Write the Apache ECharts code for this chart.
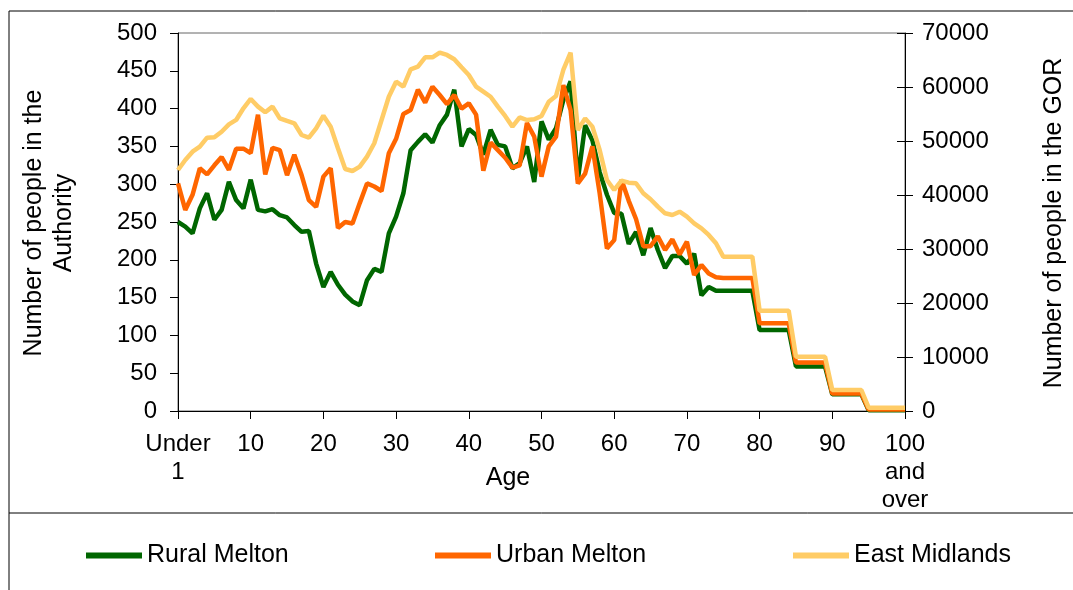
<!DOCTYPE html>
<html>
<head>
<meta charset="utf-8">
<script src="https://cdn.jsdelivr.net/npm/echarts@6/dist/echarts.min.js"></script>
<style>
html,body{margin:0;padding:0;background:#fff;}
#chart{width:1073px;height:590px;}
</style>
</head>
<body>
<div id="chart"></div>
<script>
// Age categories 0..100 (0 = "Under 1", 100 = "100 and over")
const ages = [];
for (let a = 0; a <= 100; a++) ages.push(String(a));
const tickLabels = {0: 'Under\n1', 10: '10', 20: '20', 30: '30', 40: '40', 50: '50', 60: '60', 70: '70', 80: '80', 90: '90', 100: '100\nand\nover'};

const seriesNames = ['Rural Melton', 'Urban Melton', 'East Midlands'];

// Left axis (Number of people in the Authority)
const ruralMelton = [
  250,244,235,268,288,253,266,303,279,268,
  306,266,264,267,259,256,246,237,238,195,
  164,184,167,154,145,140,173,188,184,235,
  257,288,345,356,366,355,378,392,425,350,
  373,365,339,372,352,350,321,328,350,303,
  383,359,374,411,436,306,378,358,316,286,
  262,261,221,237,206,242,213,189,205,205,
  195,208,153,164,159,159,159,159,159,159,
  107,107,107,107,107,59,59,59,59,59,
  22,22,22,22,22,1,1,1,1,1,1
];
const urbanMelton = [
  301,266,286,321,313,325,336,319,347,347,
  341,392,313,348,345,312,339,312,279,270,
  310,321,242,250,248,275,301,297,291,341,
  360,393,398,425,408,429,418,406,418,400,
  407,392,318,355,345,335,322,325,381,363,
  310,350,363,431,398,301,314,350,288,215,
  226,306,278,254,218,218,231,213,227,207,
  224,180,193,182,177,176,176,176,176,176,
  116,116,116,116,116,64,64,64,64,64,
  23,23,23,23,23,2,2,2,2,2,2
];
// Right axis (Number of people in the GOR)
const eastMidlands = [
  44630,46490,48020,48950,50620,50680,51720,53090,53900,56060,
  57780,56370,55320,56370,54190,53710,53280,51110,50620,52350,
  54690,52660,48650,44820,44450,45250,47100,49580,53890,58200,
  60990,60070,63280,63770,65500,65500,66360,65930,65130,63650,
  62230,60070,59140,58200,56370,54630,52660,54390,53890,54020,
  54630,57280,58340,63150,66360,52040,54190,52660,48340,42780,
  40930,42650,42280,42170,40320,39210,37840,36610,36300,36910,
  35990,34760,33830,32600,31060,28580,28580,28580,28580,28580,
  18580,18580,18580,18580,18580,10060,10060,10060,10060,10060,
  3890,3890,3890,3890,3890,620,620,620,620,620,620
];

const FONT = "'Liberation Sans', Arial, sans-serif";
const colors = ['#006600', '#FF6600', '#FFCC66'];

const chart = echarts.init(document.getElementById('chart'), null, {renderer: 'canvas'});
const every10 = (i) => i % 10 === 0;
const plain = (v) => String(v);

const option = {
  animation: false,
  backgroundColor: '#ffffff',
  textStyle: {fontFamily: FONT, color: '#000'},
  grid: {left: 178, right: 168, top: 33, bottom: 179, containLabel: false, outerBoundsMode: 'none',
         show: true, borderColor: '#666', borderWidth: 1, backgroundColor: 'transparent'},
  legend: [
    {data: [seriesNames[0]], left: 81, top: 538, icon: 'rect', itemWidth: 56, itemHeight: 6,
     textStyle: {fontFamily: FONT, fontSize: 25, color: '#000'}},
    {data: [seriesNames[1]], left: 430, top: 538, icon: 'rect', itemWidth: 56, itemHeight: 6,
     textStyle: {fontFamily: FONT, fontSize: 25, color: '#000'}},
    {data: [seriesNames[2]], left: 788, top: 538, icon: 'rect', itemWidth: 56, itemHeight: 6,
     textStyle: {fontFamily: FONT, fontSize: 25, color: '#000'}}
  ],
  xAxis: {
    type: 'category', data: ages, boundaryGap: false,
    axisLine: {show: true, lineStyle: {color: '#000', width: 1}},
    axisTick: {show: true, interval: every10, length: 8, lineStyle: {color: '#000'}},
    axisLabel: {interval: every10, formatter: (v, i) => tickLabels[i] || v,
                fontFamily: FONT, fontSize: 24, color: '#000', lineHeight: 28, margin: 19},
    splitLine: {show: false}
  },
  yAxis: [
    {type: 'value', position: 'left', min: 0, max: 500, interval: 50,
     axisLine: {show: true, lineStyle: {color: '#000'}},
     axisTick: {show: true, length: 8, lineStyle: {color: '#000'}},
     axisLabel: {formatter: plain, fontFamily: FONT, fontSize: 24, color: '#000', margin: 21},
     splitLine: {show: false}},
    {type: 'value', position: 'right', min: 0, max: 70000, interval: 10000,
     axisLine: {show: true, lineStyle: {color: '#000'}},
     axisTick: {show: true, length: 8, lineStyle: {color: '#000'}},
     axisLabel: {formatter: plain, fontFamily: FONT, fontSize: 24, color: '#000', margin: 17},
     splitLine: {show: false}},
    {type: 'value', position: 'right', min: 0, max: 70000, interval: 10000,
     axisLine: {show: false},
     axisTick: {show: true, inside: true, length: 8, lineStyle: {color: '#000'}},
     axisLabel: {show: false},
     splitLine: {show: false}}
  ],
  series: [
    {name: seriesNames[0], type: 'line', yAxisIndex: 0, data: ruralMelton, showSymbol: false, z: 2,
     lineStyle: {color: colors[0], width: 4.5}, itemStyle: {color: colors[0]}},
    {name: seriesNames[1], type: 'line', yAxisIndex: 0, data: urbanMelton, showSymbol: false, z: 3,
     lineStyle: {color: colors[1], width: 4.5}, itemStyle: {color: colors[1]}},
    {name: seriesNames[2], type: 'line', yAxisIndex: 1, data: eastMidlands, showSymbol: false, z: 4,
     lineStyle: {color: colors[2], width: 4.5}, itemStyle: {color: colors[2]}}
  ],
  graphic: [
    {type: 'rect', shape: {x: 9, y: 11, width: 1200, height: 700}, silent: true,
     style: {fill: 'none', stroke: '#000', lineWidth: 1}},
    {type: 'line', shape: {x1: 9, y1: 513, x2: 1200, y2: 513}, silent: true,
     style: {stroke: '#000', lineWidth: 1}},
    {type: 'text', x: 49, y: 223, rotation: Math.PI / 2, silent: true,
     style: {text: 'Number of people in the\nAuthority', font: '25px ' + FONT, fill: '#000',
             align: 'center', verticalAlign: 'middle', textAlign: 'center', textVerticalAlign: 'middle', lineHeight: 30}},
    {type: 'text', x: 1054, y: 223, rotation: Math.PI / 2, silent: true,
     style: {text: 'Number of people in the GOR', font: '25px ' + FONT, fill: '#000',
             align: 'center', verticalAlign: 'middle', textAlign: 'center', textVerticalAlign: 'middle'}},
    {type: 'text', x: 508, y: 478, silent: true,
     style: {text: 'Age', font: '25px ' + FONT, fill: '#000',
             align: 'center', verticalAlign: 'middle', textAlign: 'center', textVerticalAlign: 'middle'}}
  ]
};
chart.setOption(option);
</script>
</body>
</html>
